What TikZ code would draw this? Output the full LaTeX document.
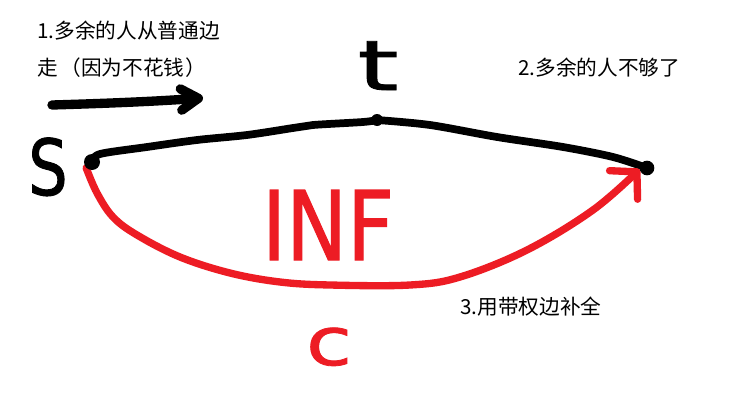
\documentclass[tikz,border=0pt]{standalone}
\usepackage{fontspec}
\newfontfamily\cjk{Noto Sans CJK SC}
\newfontfamily\hand[FakeBold=1.2]{DejaVu Sans}
\usetikzlibrary{arrows.meta}
\definecolor{paintred}{HTML}{ED1C24}
\pgfdeclarelayer{bg}
\pgfsetlayers{bg,main}
\begin{document}
\begin{tikzpicture}[x=0.75pt,y=-0.75pt,
  dotnode/.style={circle,fill=black,inner sep=0pt,minimum size=#1},
  blackedge/.style={draw=black,line width=5.8pt,line cap=round,line join=round},
  rededge/.style={draw=paintred,line width=5.5pt,line cap=round,line join=round},
  note/.style={font=\cjk\fontsize{15.5}{18}\selectfont,anchor=west,inner sep=0pt},
  handlabel/.style={inner sep=0pt,anchor=base}]
\useasboundingbox (0,0) rectangle (730,410);
% dots
\node[dotnode=12pt] (sdot) at (92,162) {};
\node[dotnode=9pt] (tdot) at (377,120) {};
\node[dotnode=11pt] (edot) at (647,168) {};
% hand labels
\node[handlabel,font=\hand\fontsize{58}{60}\selectfont] (s) at (48,195) {\scalebox{0.8}[1]{S}};
\node[handlabel,font=\hand\fontsize{52}{54}\selectfont] (t) at (378,90) {\scalebox{1.5}[1]{t}};
\node[handlabel,font=\hand\fontsize{72}{74}\selectfont,text=paintred] (inf) at (328,260) {\scalebox{0.85}[1]{INF}};
\node[handlabel,font=\hand\fontsize{50}{52}\selectfont,text=paintred] (c) at (329,365) {\scalebox{1.25}[1]{c}};
% notes
\node[note] (n1) at (37,31) {1.多余的人从普通边};
\node[note] (n1b) at (37,68) {走\kern2pt（因为不花钱\kern1pt）};
\node[note] (n2) at (518,68) {2.多余的人不够了};
\node[note] (n3) at (460,307) {3.用带权边补全};
% arrow at top left
\coordinate (a1) at (52,105);
\coordinate (a2) at (203,98);
\begin{pgfonlayer}{bg}
\fill[white] (0,0) rectangle (730,410);
\draw[line width=7pt,line cap=round,-{Straight Barb[length=13pt,width=16pt,line cap=round,line join=round]}] (a1) .. controls (120,103) and (160,101) .. (a2);
\draw[blackedge] plot[smooth,tension=0.5] coordinates {(sdot) (100,154) (147,147) (197,140) (247,135) (293,128) (313,125) (363,122) (tdot)};
\draw[blackedge] plot[smooth,tension=0.5] coordinates {(tdot) (430,125) (497,137) (563,147) (613,157) (edot)};
\draw[rededge,-{Straight Barb[length=14pt,width=30pt,line cap=round,line join=round]}] plot[smooth,tension=0.6] coordinates {(sdot.south west) (97,193) (113,217) (137,235) (180,257) (230,273) (280,282) (330,285) (410,285) (460,277) (527,250) (593,210) (edot.190)};
\end{pgfonlayer}
\end{tikzpicture}
\end{document}
